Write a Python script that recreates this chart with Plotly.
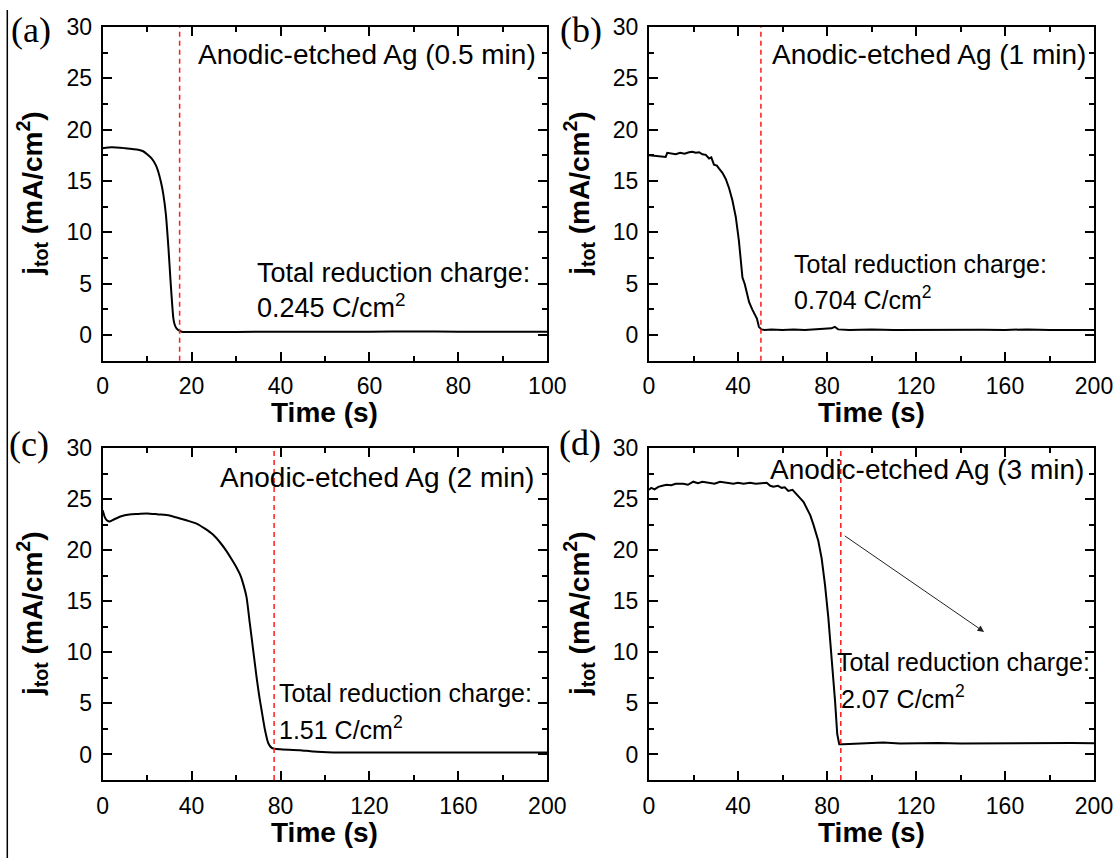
import plotly.graph_objects as go

# ---------------- data ----------------
t_a = [0, 2, 5, 8, 9.1, 10, 11, 12, 12.5, 13.1, 13.6, 14.2, 14.8, 15.3, 15.9, 16.2, 16.6, 17.4, 18,
       25, 30, 40, 50, 60, 70, 80, 90, 100]
j_a = [18.2, 18.3, 18.2, 18.05, 17.9, 17.6, 17.2, 16.5, 15.9, 14.9, 13.8, 11.8, 8.4, 5.0, 1.6, 1.0, 0.65, 0.37, 0.3,
       0.3, 0.3, 0.32, 0.32, 0.33, 0.35, 0.33, 0.33, 0.33]

t_b = [0, 2, 4, 6, 7.5, 8.2, 10, 12, 14, 16, 18, 19.5, 21, 22.5, 24, 25.5, 27, 28, 29.2, 30.5, 31.5,
       33, 34.5, 36, 37.5, 39, 40.4, 41.2, 42, 43, 44, 45, 46.4, 47.5, 48.5, 49.4, 50.5, 52, 55, 60, 65,
       70, 75, 80, 82, 83.5, 85, 90, 100, 110, 120, 130, 140, 150, 160, 170, 180, 190, 200]
j_b = [17.5, 17.45, 17.4, 17.35, 17.35, 17.75, 17.7, 17.6, 17.75, 17.65, 17.8, 17.85, 17.75, 17.8, 17.6,
       17.55, 17.2, 17.3, 16.6, 16.5, 16.2, 15.8, 15.2, 14.3, 13.1, 11.5, 9.2, 7.3, 5.6, 5.0, 4.2, 3.2, 2.5,
       2.1, 1.6, 0.8, 0.55, 0.5, 0.55, 0.5, 0.55, 0.5, 0.55, 0.6, 0.65, 0.8, 0.55, 0.5, 0.55, 0.5, 0.52,
       0.55, 0.5, 0.52, 0.5, 0.55, 0.5, 0.52, 0.5]

t_c = [0, 1, 2, 3, 5, 8, 12, 16, 20, 25, 30, 34.8, 38, 42.2, 46, 49.7, 53, 55.7, 58, 60.2, 62, 63.2,
       64.7, 66.2, 67.7, 69.2, 70.5, 71.5, 73, 74.5, 76, 79.7, 84, 88.7, 94.7, 103.7, 120, 140, 160, 180, 200]
j_c = [23.9, 23.2, 22.9, 22.8, 23.0, 23.3, 23.5, 23.55, 23.6, 23.5, 23.4, 23.1, 22.9, 22.6, 22.1, 21.5,
       20.7, 19.9, 19.1, 18.3, 17.5, 16.7, 15.4, 12.8, 10.2, 7.6, 5.6, 4.3, 2.4, 1.1, 0.65, 0.5, 0.45, 0.42,
       0.28, 0.2, 0.2, 0.2, 0.2, 0.18, 0.2]

t_d = [0, 1, 2.5, 4.2, 6, 7.9, 10, 12, 15.4, 17.5, 19.9, 22, 24, 27.4, 29.5, 31.9, 34, 37.9, 40, 42.5,
       45.4, 48, 50.5, 52.9, 54.5, 55.9, 58, 59.6, 61, 62.6, 64.5, 66.4, 67.9, 69.5, 70.9, 72.5, 73.9, 75,
       76.1, 77.6, 79.1, 80.6, 82.1, 83.6, 84.6, 85.5, 87.3, 92, 97.8, 105.3, 112.8, 120, 130, 140, 150,
       160, 170, 180, 190, 200]
j_d = [25.9, 26.1, 25.95, 26.2, 26.3, 26.4, 26.35, 26.5, 26.5, 26.4, 26.7, 26.55, 26.7, 26.6, 26.5, 26.7,
       26.65, 26.5, 26.6, 26.5, 26.6, 26.5, 26.55, 26.6, 26.3, 26.2, 26.3, 26.1, 26.15, 25.8, 25.9, 25.4,
       25.1, 24.7, 24.1, 23.4, 22.5, 21.8, 20.9, 19.2, 16.6, 13.4, 9.5, 5.3, 2.0, 1.0, 1.0, 1.05, 1.07,
       1.17, 1.07, 1.1, 1.12, 1.08, 1.1, 1.12, 1.1, 1.1, 1.12, 1.1]

panel_labels = ["(a)", "(b)", "(c)", "(d)"]
sample_titles = ["Anodic-etched Ag (0.5 min)", "Anodic-etched Ag (1 min)",
                 "Anodic-etched Ag (2 min)", "Anodic-etched Ag (3 min)"]
charges = ["0.245", "0.704", "1.51", "2.07"]
end_times = [17.3, 50.3, 77.1, 86.2]
x_max = [100, 200, 200, 200]
x_dtick = [20, 40, 40, 40]

# ---------------- layout helpers ----------------
W, H = 1120, 858
def px_x(p):
    return p / W
def px_y(p):
    return 1 - p / H

x_dom = [[px_x(102.7), px_x(547.3)], [px_x(649), px_x(1094)]]
y_dom = [[px_y(360.7), px_y(27)], [px_y(780), px_y(448)]]

FONT = "Liberation Sans, Arial, sans-serif"
SERIF = "Liberation Serif, Times New Roman, serif"

fig = go.Figure()
series = [(t_a, j_a, "spline"), (t_b, j_b, "linear"), (t_c, j_c, "spline"), (t_d, j_d, "linear")]

layout = dict(width=W, height=H, template="none",
              margin=dict(l=0, r=0, t=0, b=0, pad=0, autoexpand=False),
              paper_bgcolor="white", plot_bgcolor="white", showlegend=False)

for i in range(4):
    n = i + 1
    xs = "x" if n == 1 else f"x{n}"
    ys = "y" if n == 1 else f"y{n}"
    col, row = i % 2, i // 2
    t, j, shape = series[i]
    fig.add_trace(go.Scatter(x=t, y=j, mode="lines", xaxis=xs, yaxis=ys,
                             line=dict(color="black", width=2, shape=shape, smoothing=0.6)))
    common = dict(showline=True, linewidth=2, linecolor="black", mirror="ticks",
                  ticks="inside", ticklen=9, tickwidth=2, tickcolor="black",
                  showgrid=False, zeroline=False, automargin=False,
                  tickfont=dict(family=FONT, size=23, color="black"))
    layout["xaxis" if n == 1 else f"xaxis{n}"] = dict(
        common, domain=x_dom[col], anchor=ys, range=[0, x_max[i]], tick0=0, dtick=x_dtick[i],
        minor=dict(ticks="inside", ticklen=5, tickwidth=2, tickcolor="black", dtick=x_dtick[i] / 2, tick0=0),
        ticklabelstandoff=4)
    layout["yaxis" if n == 1 else f"yaxis{n}"] = dict(
        common, domain=y_dom[row], anchor=xs, range=[-2.5, 30], tick0=0, dtick=5,
        minor=dict(ticks="inside", ticklen=5, tickwidth=2, tickcolor="black", dtick=2.5, tick0=0),
        ticklabelstandoff=4)

fig.update_layout(**layout)

shapes = []
annotations = []
title_pos = [(59.4, 27.3), (126, 27.3), (123.4, 27.1), (124.8, 27.85)]
total_pos = [(34.2, 6.06, 34.2, 2.83), (64.3, 6.94, 64.3, 3.6), (78.3, 6.0, 78.3, 2.6), (83.8, 9.05, 85.6, 5.6)]
total_size = [27, 25, 25, 25]
label_px = [(31, 30), (581, 30), (29, 444), (580, 443)]
ytitle_px = [32, 579]
xtitle_py = [413, 832]

for i in range(4):
    n = i + 1
    xs = "x" if n == 1 else f"x{n}"
    ys = "y" if n == 1 else f"y{n}"
    col, row = i % 2, i // 2
    shapes.append(dict(type="line", xref=xs, yref=f"{ys} domain", x0=end_times[i], x1=end_times[i],
                       y0=0, y1=1, line=dict(color="#ff1a1a", width=1.5, dash="5px,4px")))
    tx, ty = title_pos[i]
    annotations.append(dict(x=tx, y=ty, xref=xs, yref=ys, text=sample_titles[i], showarrow=False,
                            xanchor="center", yanchor="middle",
                            font=dict(family=FONT, size=28, color="black")))
    ax1, ay1, ax2, ay2 = total_pos[i]
    fs = total_size[i]
    annotations.append(dict(x=ax1, y=ay1, xref=xs, yref=ys, text="Total reduction charge:", showarrow=False,
                            xanchor="left", yanchor="middle", font=dict(family=FONT, size=fs, color="black")))
    annotations.append(dict(x=ax2, y=ay2, xref=xs, yref=ys, text=f"{charges[i]} C/cm<sup>2</sup>",
                            showarrow=False, xanchor="left", yanchor="middle",
                            font=dict(family=FONT, size=fs, color="black")))
    lx, ly = label_px[i]
    annotations.append(dict(x=px_x(lx), y=px_y(ly), xref="paper", yref="paper", text=panel_labels[i],
                            showarrow=False, xanchor="center", yanchor="middle",
                            font=dict(family=SERIF, size=36, color="black")))
    # axis titles
    annotations.append(dict(x=sum(x_dom[col]) / 2, y=px_y(xtitle_py[row]), xref="paper", yref="paper",
                            text="<b>Time (s)</b>", showarrow=False, xanchor="center", yanchor="middle",
                            font=dict(family=FONT, size=28, color="black")))
    annotations.append(dict(x=px_x(ytitle_px[col]), y=sum(y_dom[row]) / 2, xref="paper", yref="paper",
                            text="<b>j<sub>tot</sub> (mA/cm<sup>2</sup>)</b>", showarrow=False, textangle=-90,
                            xanchor="center", yanchor="middle",
                            font=dict(family=FONT, size=28, color="black")))

# arrow in panel (d)
annotations.append(dict(x=150.6, y=12.0, xref="x4", yref="y4", ax=87.3, ay=21.5, axref="x4", ayref="y4",
                        text="", showarrow=True, arrowhead=2, arrowsize=1.3, arrowwidth=1, arrowcolor="#222"))

# left border line of the figure
shapes.append(dict(type="line", xref="paper", yref="paper", x0=px_x(7.3), x1=px_x(7.3),
                   y0=px_y(10), y1=0, line=dict(color="black", width=1.5)))

fig.update_layout(shapes=shapes, annotations=annotations)
fig.write_html("out.html", config={"displayModeBar": False},
               post_script="document.body.style.margin='0px';document.body.style.padding='0px';")
